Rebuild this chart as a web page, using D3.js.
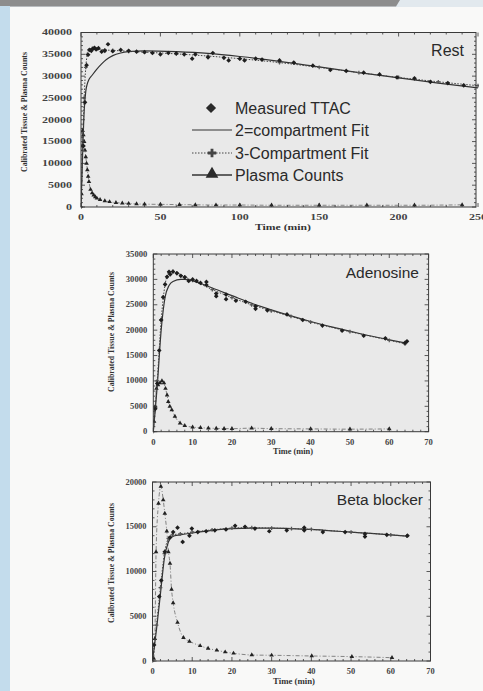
<!DOCTYPE html>
<html><head><meta charset="utf-8">
<script src="https://cdn.jsdelivr.net/npm/d3@7"></script>
<style>
html,body{margin:0;padding:0;background:#f9f9f8;}
svg{display:block;}
</style></head><body>
<svg id="c" width="483" height="691"></svg>
<script>
// ---------- DATA ----------
// Rest panel
const restTTAC = [[1.5,14000],[2.5,24000],[3.5,32500],[4.5,34900],[5.5,36000],[6.5,35800],[7.5,36300],[8.5,36500],[9.5,36100],[11,36400],[13,35600],[15,35800],[17,37300],[20,35700],[25,36000],[30,35800],[35,35600],[40,35500],[45,35300],[50,35000],[55,35300],[60,35200],[65,35000],[70,34000],[72,35000],[80,34300],[83,35300],[90,34200],[93,33600],[100,34000],[103,33600],[110,34000],[114,33800],[125,33600],[134,33100],[146,32400],[157,31400],[167,31200],[178,30800],[188,30400],[199,29700],[210,29500],[220,28700],[231,28400],[241,27900]];
const rest2C = [[0,0],[1,12000],[2,22000],[3,26500],[4,28300],[5,29200],[7,30200],[10,31600],[13,32800],[16,33800],[20,34700],[25,35300],[30,35600],[40,35800],[60,35600],[80,35200],[100,34500],[125,33400],[150,32100],[175,30800],[200,29600],[225,28400],[250,27300]];
const rest3C = [[0,0],[1,13000],[2,25000],[3,32000],[4,35000],[5,36000],[7,36300],[10,36200],[15,36000],[20,35900],[30,35700],[40,35500],[60,35100],[80,34600],[100,34000],[125,33100],[150,32000],[175,30800],[200,29700],[225,28700],[250,27800]];
const restPlasma = [[0.3,3000],[0.7,14000],[1,17500],[1.5,16500],[2,15000],[2.5,13000],[3,11500],[3.5,10000],[4,8500],[4.5,7000],[5,5800],[6,4000],[7,3200],[8,2700],[9,2300],[10,2000],[12,1700],[15,1400],[18,1200],[22,1000],[26,900],[30,800],[35,700],[40,650],[50,600],[62,550],[72,500],[85,450],[100,450],[120,400],[150,400],[180,400],[210,400],[240,500]];
// Adenosine panel
const adenTTAC = [[0.5,4500],[1,9500],[1.5,16000],[2,22000],[2.5,26500],[3,29000],[3.5,30500],[4,31500],[4.3,31000],[5,31500],[6,31200],[7,30700],[8,30400],[9,29700],[10,30000],[11,29700],[12,29300],[13.5,29500],[13.5,28900],[16,27200],[16,26700],[18.5,27000],[18.5,26100],[21,25800],[23.5,25600],[26,24700],[26,24200],[29,23900],[34,23100],[38,22000],[43,20900],[48,19900],[53.5,18900],[59,18400],[64,17500],[64.5,17800]];
const aden2C = [[0,0],[1,9000],[2,20000],[3,26500],[4,28800],[5,29600],[7,30000],[8,30000],[10,29700],[15,28300],[20,26800],[25,25300],[30,24000],[35,22800],[40,21700],[45,20700],[50,19800],[55,18900],[60,18100],[64,17500]];
const aden3C = [[0,0],[1,10000],[2,22000],[3,29000],[4,31300],[5,31600],[6,31300],[8,30500],[10,29800],[15,28000],[20,26400],[25,25000],[30,23800],[35,22700],[40,21600],[50,19700],[60,18000],[64,17300]];
const adenPlasma = [[0.2,2000],[0.5,5000],[0.8,8500],[1.2,9200],[1.7,9600],[2.2,10000],[2.7,9600],[3.1,8500],[3.5,7200],[3.8,5900],[4.2,5000],[4.7,4300],[5.5,3000],[6.8,1700],[8,1200],[10,900],[12,800],[14,700],[16,650],[18,600],[20,600],[25,700],[30,600],[40,550],[50,500],[60,550]];
// Beta blocker panel
const betaTTAC = [[0.4,1800],[1.7,7200],[2.2,9000],[3.1,12200],[4.4,13800],[5.2,14400],[6.3,14900],[7.6,13300],[9.3,14000],[9.9,14800],[11.4,14400],[13.5,14500],[15.7,14600],[18.5,14700],[20.8,15100],[23.3,15000],[25.8,14800],[29.4,14500],[33.8,14600],[38.2,14900],[38.2,14600],[42.9,14400],[48.5,14400],[53.5,14200],[53.5,13900],[59,14100],[64.2,14000]];
const beta2C = [[0,0],[1,3500],[2,7500],[3,11500],[4,13300],[5,13900],[7,14100],[10,14300],[15,14600],[20,14800],[25,14850],[30,14850],[35,14800],[40,14700],[45,14550],[50,14400],[55,14250],[60,14100],[64,13950]];
const beta3C = [[0,0],[1,4000],[2,8200],[3,12000],[4,13700],[5,14100],[7,14200],[10,14400],[15,14650],[20,14850],[25,14900],[30,14850],[35,14800],[40,14700],[50,14400],[60,14100],[64,13950]];
const betaPlasma = [[0.3,300],[0.6,2500],[0.9,12200],[1.5,17600],[2.1,19500],[2.7,18000],[3.1,16500],[3.6,14500],[4.0,12200],[4.4,10900],[4.8,8000],[5.2,6500],[6.3,4300],[7.8,2600],[9.3,2200],[12,1700],[14,1400],[16.2,1200],[18.3,1000],[20.4,860],[25,670],[30,640],[40.1,560],[50.2,490],[60.3,370]];

const restXTicks = [0,50,100,150,200,250];
const restYTicks = [0,5000,10000,15000,20000,25000,30000,35000,40000];
const minXTicks = [0,10,20,30,40,50,60,70];
const adenYTicks = [0,5000,10000,15000,20000,25000,30000,35000];
const betaYTicks = [0,5000,10000,15000,20000];
const legendLabels = ["Measured TTAC","2=compartment Fit","3-Compartment Fit","Plasma Counts"];
const yTitle = "Calibrated Tissue & Plasma Counts";
const xTitle = "Time (min)";

// ---------- DRAW ----------
const svg = d3.select("#c");
// scanned page decorations
svg.append("rect").attr("x",0).attr("y",0).attr("width",483).attr("height",7).attr("fill","#e2e9ee");
svg.append("path").attr("d","M0,0H400L396,6.5H0Z").attr("fill","#8d8d8d");
svg.append("rect").attr("x",0).attr("y",6).attr("width",10).attr("height",685).attr("fill","#c3dcec");

const serif = "'Liberation Serif','DejaVu Serif',serif";
const sans = "'Liberation Sans',Arial,sans-serif";

function panel(cfg){
  const x = d3.scaleLinear().domain(cfg.xd).range([cfg.x0,cfg.x1]);
  const y = d3.scaleLinear().domain(cfg.yd).range([cfg.y0,cfg.y1]);
  const g = svg.append("g");
  const pl = cfg.x0, pr = cfg.pr || cfg.x1, pt = cfg.y1, pb = cfg.y0;
  g.append("rect").attr("x",pl).attr("y",pt).attr("width",pr-pl).attr("height",pb-pt)
    .attr("fill","#e9e9e9");
  const clipId = "clip"+cfg.id;
  svg.append("clipPath").attr("id",clipId).append("rect")
    .attr("x",pl).attr("y",pt-4).attr("width",pr-pl+3).attr("height",pb-pt+6);
  const inner = g.append("g").attr("clip-path",`url(#${clipId})`);

  // minor & major ticks on all 4 sides (inside)
  const xMinor = d3.range(cfg.xd[0], cfg.xd[1]+1e-9, cfg.xMinor);
  const yMinor = d3.range(cfg.yd[0], cfg.yd[1]+1e-9, cfg.yMinor);
  const tk = g.append("g").attr("stroke","#333").attr("stroke-width",0.8);
  xMinor.forEach(v=>{
    const maj = cfg.xt.includes(v), L = maj?4:2;
    tk.append("line").attr("x1",x(v)).attr("x2",x(v)).attr("y1",pb).attr("y2",pb-L);
    tk.append("line").attr("x1",x(v)).attr("x2",x(v)).attr("y1",pt).attr("y2",pt+L);
  });
  yMinor.forEach(v=>{
    const maj = cfg.yt.includes(v), L = maj?4:2;
    tk.append("line").attr("y1",y(v)).attr("y2",y(v)).attr("x1",pl).attr("x2",pl+L);
    tk.append("line").attr("y1",y(v)).attr("y2",y(v)).attr("x1",pr).attr("x2",pr-L);
  });
  g.append("rect").attr("x",pl).attr("y",pt).attr("width",pr-pl).attr("height",pb-pt)
    .attr("fill","none").attr("stroke","#3a3a3a").attr("stroke-width",1);

  // tick labels (stretched like the scanned original)
  const cw = cfg.charW;
  g.selectAll(".xl").data(cfg.xt).join("text")
    .attr("x",d=>x(d)).attr("y",cfg.xLabY).attr("text-anchor","middle")
    .attr("font-family",serif).attr("font-size",cfg.labSize).attr("font-weight","bold").attr("fill","#444")
    .attr("textLength",d=>String(d).length*cw).attr("lengthAdjust","spacingAndGlyphs")
    .text(d=>d);
  g.selectAll(".yl").data(cfg.yt).join("text")
    .attr("x",pl-cfg.yLabGap).attr("y",d=>y(d)+cfg.labSize*0.33).attr("text-anchor","end")
    .attr("font-family",serif).attr("font-size",cfg.labSize).attr("font-weight","bold").attr("fill","#444")
    .attr("textLength",d=>String(d).length*cw).attr("lengthAdjust","spacingAndGlyphs")
    .text(d=>d);
  g.append("text").attr("x",cfg.xTitleX).attr("y",cfg.xTitleY).attr("text-anchor","middle")
    .attr("font-family",serif).attr("font-size",cfg.labSize).attr("font-weight","bold").attr("fill","#333")
    .attr("textLength",cfg.xTitleW).attr("lengthAdjust","spacingAndGlyphs").text(xTitle);
  g.append("text").attr("transform",`translate(${cfg.yTitleX},${cfg.yTitleY}) rotate(-90)`)
    .attr("text-anchor","middle").attr("font-family",serif).attr("font-size",cfg.yTitleSize)
    .attr("font-weight","bold").attr("fill","#333")
    .attr("textLength",120).attr("lengthAdjust","spacingAndGlyphs").text(yTitle);

  const line = d3.line().x(d=>x(d[0])).y(d=>y(d[1])).curve(d3.curveMonotoneX);
  // plasma
  inner.append("path").attr("d",line(cfg.plasma)).attr("fill","none")
    .attr("stroke","#777").attr("stroke-width",0.9).attr("stroke-dasharray","4,2,1,2");
  const tri = d3.symbol().type(d3.symbolTriangle).size(9);
  inner.selectAll(".pm").data(cfg.plasma).join("path")
    .attr("d",tri).attr("transform",d=>`translate(${x(d[0])},${y(d[1])})`).attr("fill","#222");
  // 2-compartment fit
  inner.append("path").attr("d",line(cfg.c2)).attr("fill","none")
    .attr("stroke","#333").attr("stroke-width",1.2);
  // 3-compartment fit
  inner.append("path").attr("d",line(cfg.c3)).attr("fill","none")
    .attr("stroke","#444").attr("stroke-width",1).attr("stroke-dasharray","1.5,1.5");
  const cross = d3.symbol().type(d3.symbolCross).size(8);
  inner.selectAll(".cm").data(cfg.c3).join("path")
    .attr("d",cross).attr("transform",d=>`translate(${x(d[0])},${y(d[1])})`).attr("fill","#555");
  // measured TTAC (rotated squares)
  const dia = d3.symbol().type(d3.symbolSquare).size(11);
  inner.selectAll(".dm").data(cfg.ttac).join("path")
    .attr("d",dia).attr("transform",d=>`translate(${x(d[0])},${y(d[1])}) rotate(45)`).attr("fill","#1e1e1e");

  // panel title
  g.append("text").attr("x",cfg.titleX).attr("y",cfg.titleY).attr("text-anchor","end")
    .attr("font-family",sans).attr("font-size",cfg.titleSize).attr("fill","#2a2a2a").text(cfg.title);
  return {x,y,g};
}

panel({id:1,xd:[0,250],yd:[0,40000],x0:81,x1:478,pr:476,y0:207,y1:32.5,
  xt:restXTicks,yt:restYTicks,xMinor:10,yMinor:1000,xLabY:220,yLabGap:9,
  labSize:8.5,charW:6,xTitleW:56,yTitleSize:9,
  xTitleX:283,xTitleY:230,yTitleX:27,yTitleY:112,
  ttac:restTTAC,c2:rest2C,c3:rest3C,plasma:restPlasma,
  title:"Rest",titleX:464,titleY:56,titleSize:16});

panel({id:2,xd:[0,70],yd:[0,35000],x0:153.3,x1:428.6,y0:431.7,y1:254,
  xt:minXTicks,yt:adenYTicks,xMinor:2,yMinor:1000,xLabY:444.5,yLabGap:6,
  labSize:7.6,charW:4.3,xTitleW:40,yTitleSize:7.6,
  xTitleX:293,xTitleY:454,yTitleX:114,yTitleY:332,
  ttac:adenTTAC,c2:aden2C,c3:aden3C,plasma:adenPlasma,
  title:"Adenosine",titleX:419,titleY:278,titleSize:15.5});

panel({id:3,xd:[0,70],yd:[0,20000],x0:152.5,x1:430.5,y0:661,y1:482,
  xt:minXTicks,yt:betaYTicks,xMinor:2,yMinor:1000,xLabY:673.5,yLabGap:6,
  labSize:7.6,charW:4.2,xTitleW:42,yTitleSize:7.6,
  xTitleX:294,xTitleY:683.5,yTitleX:114,yTitleY:563,
  ttac:betaTTAC,c2:beta2C,c3:beta3C,plasma:betaPlasma,
  title:"Beta blocker",titleX:423,titleY:505,titleSize:15.5});

// legend (Rest panel)
const lg = svg.append("g").attr("font-family",sans).attr("font-size",16).attr("fill","#2a2a2a");
const rows = [108,130,153,175];
lg.selectAll("text").data(legendLabels).join("text")
  .attr("x",235).attr("y",(d,i)=>rows[i]+5.5).text(d=>d);
lg.append("path").attr("d",d3.symbol().type(d3.symbolSquare).size(52))
  .attr("transform",`translate(211,${rows[0]}) rotate(45)`).attr("fill","#2a2a2a");
lg.append("line").attr("x1",192).attr("x2",232).attr("y1",rows[1]).attr("y2",rows[1])
  .attr("stroke","#333").attr("stroke-width",1.2);
lg.append("line").attr("x1",192).attr("x2",232).attr("y1",rows[2]).attr("y2",rows[2])
  .attr("stroke","#444").attr("stroke-width",1).attr("stroke-dasharray","1.5,1.5");
lg.append("path").attr("d",d3.symbol().type(d3.symbolCross).size(40))
  .attr("transform",`translate(212,${rows[2]})`).attr("fill","#444");
lg.append("line").attr("x1",192).attr("x2",232).attr("y1",rows[3]).attr("y2",rows[3])
  .attr("stroke","#333").attr("stroke-width",1.5);
lg.append("path").attr("d",d3.symbol().type(d3.symbolTriangle).size(70))
  .attr("transform",`translate(212,${rows[3]-1})`).attr("fill","#2a2a2a");
</script>
</body></html>
